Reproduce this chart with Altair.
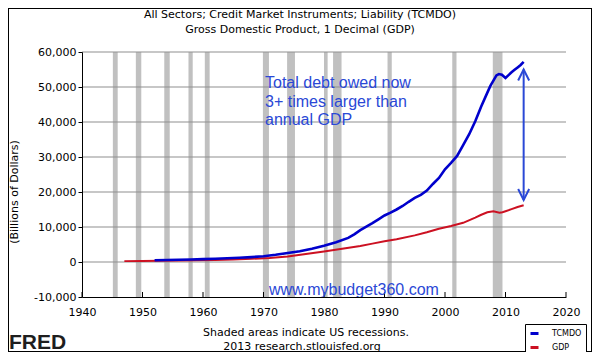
import altair as alt
import pandas as pd

# ---------------- data ----------------
debt_years = [1952, 1954, 1956, 1958, 1960, 1962, 1964, 1966, 1968, 1970, 1972, 1974,
              1976, 1978, 1980, 1982, 1984, 1985, 1986, 1987, 1988, 1989, 1990, 1991,
              1992, 1993, 1994, 1995, 1996, 1997, 1998, 1999, 2000, 2001, 2002, 2003,
              2004, 2005, 2006, 2007, 2007.5, 2008, 2008.5, 2008.9, 2009.4, 2010.0,
              2010.5, 2011.0, 2011.5, 2012.0, 2012.5, 2013.0]
debt_values = [500, 560, 640, 720, 820, 930, 1060, 1200, 1400, 1650, 2050, 2550,
               3050, 3800, 4650, 5650, 6900, 7900, 9100, 10100, 11100, 12200, 13300, 14100,
               15000, 16000, 17200, 18300, 19200, 20400, 22300, 24000, 26500, 28300, 30300, 33400,
               36500, 40200, 44500, 48400, 50300, 51800, 53300, 53700, 53500, 52600,
               53400, 54200, 54900, 55600, 56300, 57200]

gdp_years = [1947, 1950, 1953, 1956, 1959, 1962, 1965, 1968, 1971, 1974, 1977, 1980,
             1983, 1986, 1988, 1990, 1992, 1995, 1997, 1999, 2001, 2003, 2005, 2006,
             2007, 2008, 2009, 2009.5, 2010, 2011, 2012, 2013]
gdp_values = [250, 300, 380, 440, 510, 590, 720, 910, 1150, 1550, 2300, 3000,
              3800, 4600, 5250, 5950, 6500, 7600, 8500, 9500, 10300, 11200, 12700, 13500,
              14200, 14500, 14100, 14200, 14500, 15100, 15700, 16200]

recession_start = [1945.1, 1948.9, 1953.6, 1957.6, 1960.3, 1969.9, 1973.9, 1980.0,
                   1981.5, 1990.5, 2001.2, 2007.9]
recession_end = [1945.9, 1949.8, 1954.5, 1958.3, 1961.1, 1970.9, 1975.2, 1980.6,
                 1982.9, 1991.2, 2001.9, 2009.5]

x_ticks = [1940, 1950, 1960, 1970, 1980, 1990, 2000, 2010, 2020]
y_ticks = [-10000, 0, 10000, 20000, 30000, 40000, 50000, 60000]
grid_values = [0, 10000, 20000, 30000, 40000, 50000, 60000]
x_range = [1940, 2020]

series_names = ["TCMDO", "GDP"]
series_colors = ["#0000cc", "#cc1122"]

title_lines = ["All Sectors; Credit Market Instruments; Liability (TCMDO)",
               "Gross Domestic Product, 1 Decimal (GDP)"]
footer_lines = ["Shaded areas indicate US recessions.", "2013 research.stlouisfed.org"]
note_lines = ["Total debt owed now", "3+ times larger than", "annual GDP"]
site_text = "www.mybudget360.com"
brand_text = "FRED"
arrow_year = [2013.0]
arrow_top = [55000]
arrow_bottom = [17700]

# ---------------- build ----------------
W, H = 484, 245
FONT = "DejaVu Sans"
NOTE_BLUE = "#2a48d6"

x_scale = alt.Scale(domain=x_range, nice=False, zero=False)
y_scale = alt.Scale(domain=[-10000, 60000], nice=False, zero=False)
color_scale = alt.Scale(domain=series_names, range=series_colors)

debt_df = pd.DataFrame({"year": debt_years, "value": debt_values, "series": "TCMDO"})
gdp_df = pd.DataFrame({"year": gdp_years, "value": gdp_values, "series": "GDP"})
rec_df = pd.DataFrame({"start": recession_start, "end": recession_end})
tick_df = pd.DataFrame({"tick": x_ticks})
grid_df = pd.DataFrame({"gy": grid_values, "gx0": x_range[0], "gx1": x_range[1]})
arrow_df = pd.DataFrame({"year": arrow_year, "top": arrow_top, "bottom": arrow_bottom})
one = pd.DataFrame({"k": [0]})

legend = alt.Legend(orient="none", legendX=443, legendY=272, title=None,
                    strokeColor="black", fillColor="white", padding=4,
                    symbolType="stroke", symbolSize=64, symbolStrokeWidth=3,
                    labelFont=FONT, labelFontSize=8, labelOffset=12, rowPadding=1,
                    labelColor="black")

x_axis = alt.Axis(values=x_ticks, format="d", ticks=False, tickSize=0, grid=False,
                  domainColor="black", labelFont=FONT, labelFontSize=11,
                  labelColor="black", labelPadding=9, labelFlush=False,
                  labelOverlap=False, zindex=1)
y_axis = alt.Axis(values=y_ticks, tickSize=4, tickColor="black", domainColor="black",
                  grid=False, labelFont=FONT, labelFontSize=11, labelOverlap=False,
                  labelColor="black", labelPadding=2, zindex=1,
                  labelExpr="datum.value < 0 ? '-' + format(-datum.value, ',') : format(datum.value, ',')")

Xq = lambda f: alt.X(f, scale=x_scale, axis=x_axis, title=None)
Yq = lambda f: alt.Y(f, scale=y_scale, axis=y_axis, title=None)

bars = alt.Chart(rec_df).mark_rect(color="#c0c0c0").encode(
    x=Xq("start:Q"), x2="end:Q",
    y=alt.value(0), y2=alt.value(H),
)

grid = alt.Chart(grid_df).mark_rule(color="#8f8f8f", strokeWidth=1, opacity=1).encode(
    x=Xq("gx0:Q"), x2="gx1:Q", y=Yq("gy:Q"),
)

gdp_line = alt.Chart(gdp_df).mark_line(strokeWidth=2).encode(
    x=Xq("year:Q"), y=Yq("value:Q"),
    color=alt.Color("series:N", scale=color_scale, legend=legend, sort=series_names),
)
debt_line = alt.Chart(debt_df).mark_line(strokeWidth=2.6).encode(
    x=Xq("year:Q"), y=Yq("value:Q"),
    color=alt.Color("series:N", scale=color_scale, legend=legend, sort=series_names),
)

inner_ticks = alt.Chart(tick_df).mark_rule(color="black", strokeWidth=1).encode(
    x=Xq("tick:Q"), y=alt.value(H), y2=alt.value(H - 5),
)

arrow_shaft = alt.Chart(arrow_df).mark_rule(color=NOTE_BLUE, strokeWidth=2).encode(
    x=Xq("year:Q"), y=Yq("top:Q"), y2="bottom:Q",
)
arrow_up = alt.Chart(arrow_df).mark_point(
    shape="M -1 2 L 0 0 L 1 2", size=121, filled=False, color=NOTE_BLUE,
    strokeWidth=2, opacity=1).encode(x=Xq("year:Q"), y=Yq("top:Q"))
arrow_down = alt.Chart(arrow_df).mark_point(
    shape="M -1 -2 L 0 0 L 1 -2", size=121, filled=False, color=NOTE_BLUE,
    strokeWidth=2, opacity=1).encode(x=Xq("year:Q"), y=Yq("bottom:Q"))

note = alt.Chart(one).mark_text(
    font="Liberation Sans", fontSize=16, color=NOTE_BLUE, align="left",
    baseline="alphabetic", lineHeight=18.5).encode(
    x=alt.value(183), y=alt.value(36), text=alt.value(note_lines))

site = alt.Chart(one).mark_text(
    font="Liberation Sans", fontSize=16, color=NOTE_BLUE, align="left",
    baseline="middle").encode(
    x=alt.value(187), y=alt.value(238), text=alt.value(site_text))

title1 = alt.Chart(one).mark_text(font=FONT, fontSize=11, color="black",
                                  baseline="alphabetic").encode(
    x=alt.value(218), y=alt.value(-34), text=alt.value(title_lines[0]))
title2 = alt.Chart(one).mark_text(font=FONT, fontSize=11, color="black",
                                  baseline="alphabetic").encode(
    x=alt.value(218), y=alt.value(-19), text=alt.value(title_lines[1]))

foot1 = alt.Chart(one).mark_text(font=FONT, fontSize=11, color="black",
                                 baseline="middle").encode(
    x=alt.value(224), y=alt.value(281), text=alt.value(footer_lines[0]))
foot2 = alt.Chart(one).mark_text(font=FONT, fontSize=11, color="black",
                                 baseline="middle").encode(
    x=alt.value(220), y=alt.value(295), text=alt.value(footer_lines[1]))

ytitle = alt.Chart(one).mark_text(font=FONT, fontSize=11, color="black", angle=270,
                                  baseline="middle").encode(
    x=alt.value(-67), y=alt.value(140), text=alt.value("(Billions of Dollars)"))

brand = alt.Chart(one).mark_text(font="Liberation Sans", fontWeight="bold", fontSize=21,
                                 color="#1e1e1e", align="left",
                                 baseline="alphabetic").encode(
    x=alt.value(-73), y=alt.value(297), text=alt.value(brand_text))

# outer frame as four rules
frame_top = alt.Chart(one).mark_rule(color="black").encode(
    x=alt.value(-74), x2=alt.value(510), y=alt.value(-43.5))
frame_bottom = alt.Chart(one).mark_rule(color="black").encode(
    x=alt.value(-74), x2=alt.value(510), y=alt.value(299.5))
frame_left = alt.Chart(one).mark_rule(color="black").encode(
    x=alt.value(-73.5), y=alt.value(-44), y2=alt.value(300))
frame_right = alt.Chart(one).mark_rule(color="black").encode(
    x=alt.value(509.5), y=alt.value(-44), y2=alt.value(300))

chart = alt.layer(
    bars, grid, gdp_line, debt_line, inner_ticks, arrow_shaft, arrow_up, arrow_down,
    note, site, title1, title2, foot1, foot2, ytitle, brand,
    frame_top, frame_bottom, frame_left, frame_right
).properties(
    width=W, height=H,
    autosize=alt.AutoSizeParams(type="none"),
    padding={"left": 74, "top": 44, "right": 26, "bottom": 55},
).configure_view(stroke=None)

chart.save("out.html", embed_options={"renderer": "svg", "actions": False})
